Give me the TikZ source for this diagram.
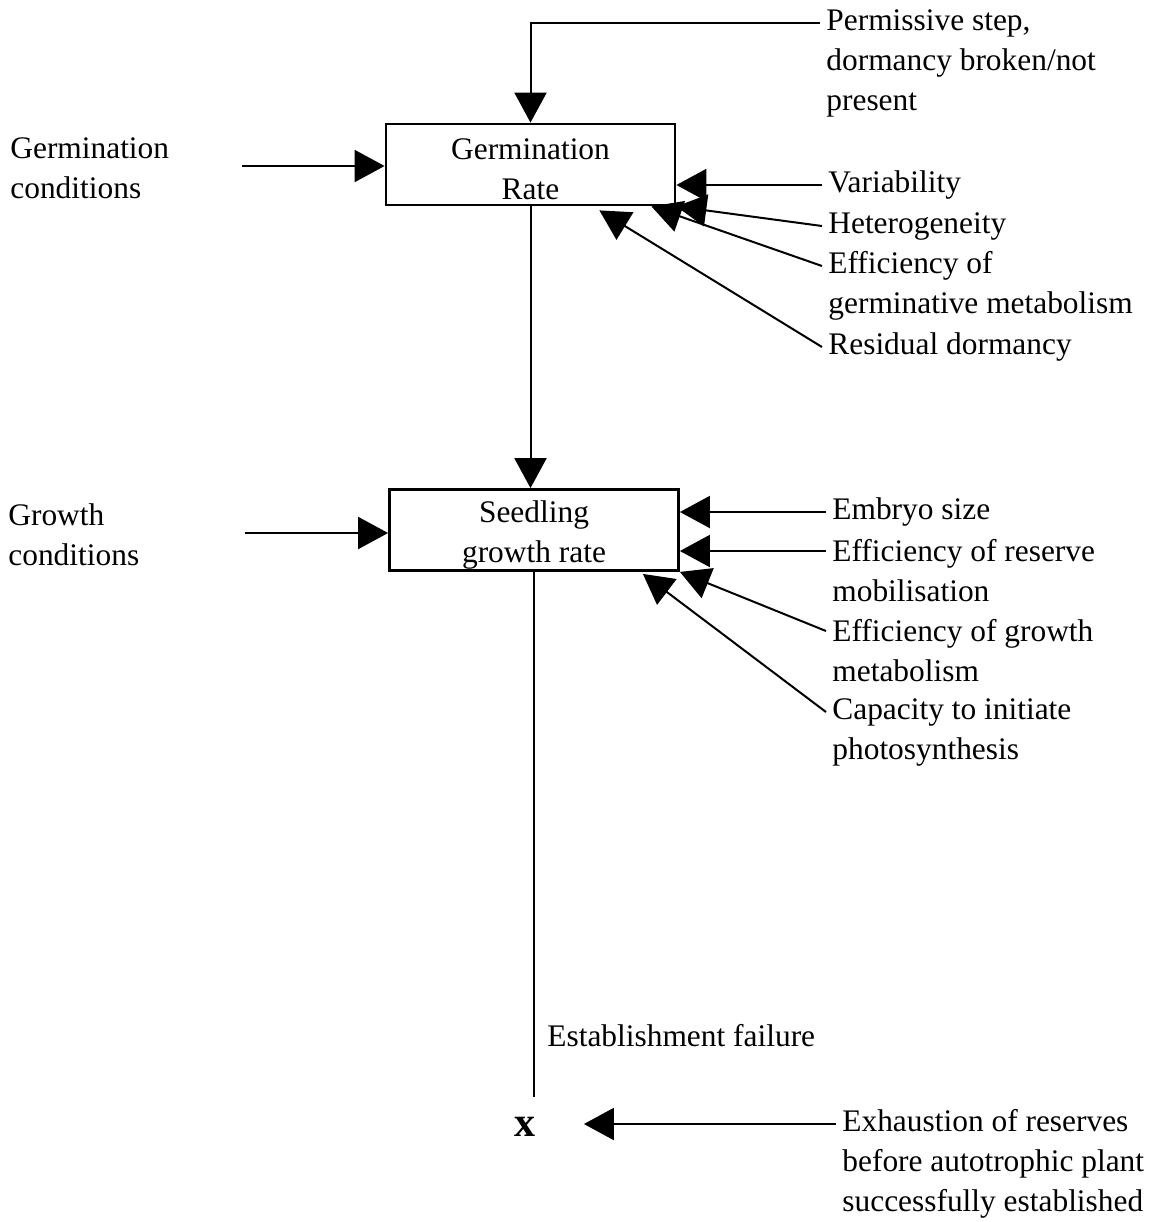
\documentclass[tikz,border=0pt]{standalone}
\usepackage{fontspec}
\setmainfont{Liberation Serif}
\usetikzlibrary{arrows.meta,positioning,calc}

\begin{document}
\begin{tikzpicture}[
    x=0.5pt, y=-0.5pt,
    font=\fontsize{15.7}{20}\selectfont,
    >={Triangle[length=15pt,width=16pt]},
    ratebox/.style={
        draw, line width=1.4pt,
        minimum width=144.5pt, minimum height=40.5pt,
        align=center, inner sep=0pt,
    },
    factor/.style={anchor=west, align=left, inner xsep=3pt, inner ysep=0pt},
    inarrow/.style={->, line width=1pt},
    plainline/.style={line width=1pt},
]
\useasboundingbox (0,0) rectangle (1159,1222);

% ============================================================
% RATE BOXES
% ============================================================
\node[ratebox] (germ) at (530.5,164.5) {\rule{0pt}{15pt}Germination\\Rate};
\node[ratebox] (seed) at (534,530) {\rule{0pt}{15.5pt}Seedling\\growth rate};

% ============================================================
% CONDITIONS (left)
% ============================================================
\node[factor] (germcond) at (4,168) {Germination\\conditions};
\node[factor] (growcond) at (2,535) {Growth\\conditions};

\coordinate (gcin) at (242,166);
\coordinate (wcin) at (245,533);
\draw[inarrow] (gcin) -- (gcin -| germ.west);
\draw[inarrow] (wcin) -- (wcin -| seed.west);

% ============================================================
% GERMINATION FACTORS (right)
% ============================================================
\node[factor] (permit) at (820,63) {Permissive step,\\dormancy broken/not\\present};
\node[factor] (vari) at (822,185) {Variability};
\node[factor] (hetero) at (822,226) {Heterogeneity};
\node[factor] (effgerm) at (822,286) {Efficiency of\\germinative metabolism};
\node[factor] (resid) at (822,347) {Residual dormancy};

\coordinate (permin) at ([yshift=20pt]permit.west);
\draw[inarrow] (permin) -| (germ.north);
\draw[inarrow] (vari.west) -- (vari.west -| germ.east);
\draw[inarrow] (hetero.west) -- (germ.south east);
\draw[inarrow] ([yshift=10pt]effgerm.west) -- ([xshift=-12.5pt]germ.south east);
\draw[inarrow] (resid.west) -- ([xshift=-38.5pt,yshift=-2pt]germ.south east);

% germination -> seedling growth
\draw[inarrow] (germ.south) -- (germ.south |- seed.north);

% ============================================================
% GROWTH FACTORS (right)
% ============================================================
\node[factor] (embryo) at (826,512) {Embryo size};
\node[factor] (reserve) at (826,571) {Efficiency of reserve\\mobilisation};
\node[factor] (growmet) at (826,651) {Efficiency of growth\\metabolism};
\node[factor] (capacity) at (826,732) {Capacity to initiate\\photosynthesis};

\coordinate (resin) at ([yshift=10pt]reserve.west);
\draw[inarrow] (embryo.west) -- (embryo.west -| seed.east);
\draw[inarrow] (resin) -- (resin -| seed.east);
\draw[inarrow] ([yshift=10pt]growmet.west) -- (seed.south east);
\draw[inarrow] ([yshift=10pt]capacity.west) -- ([xshift=-18.5pt,yshift=-1pt]seed.south east);

% ============================================================
% ESTABLISHMENT FAILURE
% ============================================================
\coordinate (failend) at (536,1097);
\draw[plainline] (seed.south) -- (seed.south |- failend);
\node[factor] (failure) at (541,1036) {Establishment failure};

\node[font=\fontsize{21}{24}\selectfont\bfseries, inner sep=0pt] (xfail) at (525,1127) {x};
\node[factor] (exhaust) at (836,1164) {Exhaustion of reserves\\before autotrophic plant\\successfully established};

\coordinate (exhin) at ([yshift=20pt]exhaust.west);
\coordinate (xtarget) at ([xshift=24pt]xfail.east);
\draw[inarrow] (exhin) -- (exhin -| xtarget);

\end{tikzpicture}
\end{document}
